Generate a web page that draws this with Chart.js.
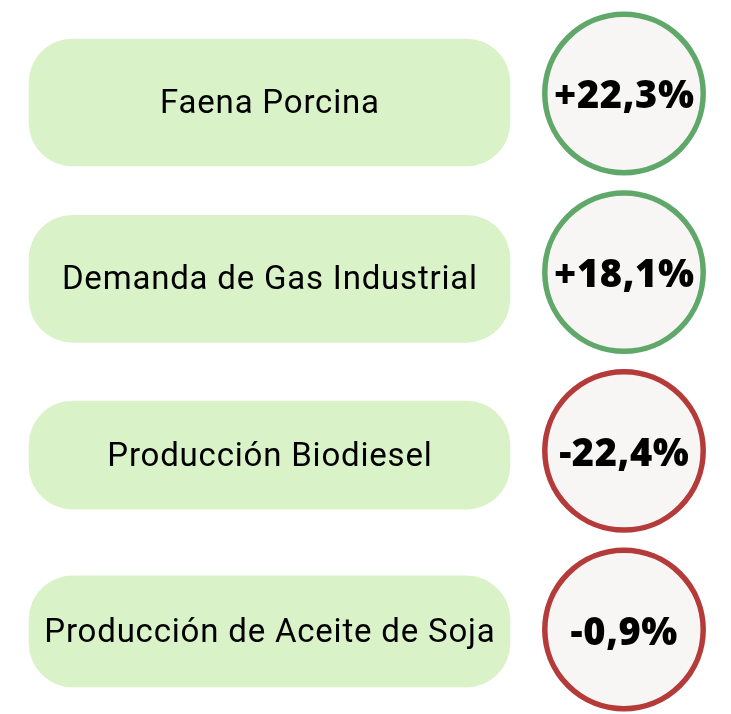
<!DOCTYPE html>
<html>
<head>
<meta charset="utf-8">
<script src="https://cdn.jsdelivr.net/npm/chart.js@4.4.1/dist/chart.umd.min.js"></script>
<style>
  html, body { margin: 0; padding: 0; background: #ffffff; }
  #wrap { width: 731px; height: 714px; }
</style>
</head>
<body>
<div id="wrap"><canvas id="c" width="731" height="714"></canvas></div>
<script>
// ---- data ----
const categories = [
  'Faena Porcina',
  'Demanda de Gas Industrial',
  'Producción Biodiesel',
  'Producción de Aceite de Soja'
];
const variation = [22.3, 18.1, -22.4, -0.9];   // % change

// ---- layout / style (not data) ----
const W = 731, H = 714;
const BOX_SPAN = [29, 510];            // x-extent of the label panels (x-axis units = px)
const BOX_HEIGHTS = [127, 127, 108, 111];
const BOX_ROW0 = 102.5, BOX_STEP = 176.3;   // vertical mapping of panel rows
const CIRCLE_X = 624;
const CIRC_ROW0 = 93.45, CIRC_STEP = 178.7;  // vertical mapping of circle rows
const BOX_COLOR = '#daf2c8';
const CIRCLE_FILL = '#f7f6f4';
const POS_COLOR = '#5fa86a';
const NEG_COLOR = '#b53a3a';

function fmtPct(v) {
  const s = Math.abs(v).toFixed(1).replace('.', ',');
  return (v >= 0 ? '+' : '-') + s + '%';
}

const textPlugin = {
  id: 'infoText',
  afterDatasetsDraw(chart) {
    const ctx = chart.ctx;
    ctx.save();
    ctx.fillStyle = '#000000';
    ctx.textAlign = 'center';
    ctx.textBaseline = 'alphabetic';
    chart.data.datasets.forEach((ds, di) => {
      const meta = chart.getDatasetMeta(di);
      if (ds.role === 'box') {
        const el = meta.data[0];
        const p = el.getCenterPoint();
        ctx.font = '400 33px Roboto';
        ctx.letterSpacing = '0.8px';
        ctx.fillText(categories[ds.row], p.x + 0.4, p.y + 10.5);
      } else if (ds.role === 'circle') {
        meta.data.forEach((el, i) => {
          ctx.font = '800 38px "Open Sans"';
          ctx.letterSpacing = '0.6px';
          ctx.fillText(fmtPct(variation[i]), el.x + 0.3, el.y + 15);
        });
      }
    });
    ctx.restore();
  }
};

function build() {
  const boxDatasets = categories.map((c, i) => ({
    type: 'bar',
    role: 'box',
    row: i,
    indexAxis: 'y',
    xAxisID: 'x',
    yAxisID: 'yBox',
    data: [{ x: BOX_SPAN, y: i }],
    grouped: false,
    barThickness: BOX_HEIGHTS[i],
    backgroundColor: BOX_COLOR,
    borderWidth: 0,
    borderRadius: 44,
    borderSkipped: false,
    clip: false
  }));

  const circleDataset = {
    type: 'scatter',
    role: 'circle',
    xAxisID: 'x',
    yAxisID: 'yCirc',
    data: categories.map((c, i) => ({ x: CIRCLE_X, y: i })),
    pointRadius: 79.2,
    pointHoverRadius: 79.2,
    pointBorderWidth: 5.5,
    borderWidth: 5.5,
    pointBackgroundColor: CIRCLE_FILL,
    backgroundColor: CIRCLE_FILL,
    pointBorderColor: variation.map(v => v >= 0 ? POS_COLOR : NEG_COLOR),
    borderColor: variation.map(v => v >= 0 ? POS_COLOR : NEG_COLOR),
    clip: false
  };

  new Chart(document.getElementById('c'), {
    type: 'scatter',
    data: { datasets: [...boxDatasets, circleDataset] },
    plugins: [textPlugin],
    options: {
      responsive: false,
      devicePixelRatio: 1,
      animation: false,
      events: [],
      layout: { padding: 0, autoPadding: false },
      plugins: { legend: { display: false }, tooltip: { enabled: false } },
      scales: {
        x: { type: 'linear', display: false, offset: false, min: 0, max: W },
        yBox: {
          type: 'linear', display: false, reverse: true, offset: false,
          grid: { offset: false },
          min: -BOX_ROW0 / BOX_STEP, max: (H - BOX_ROW0) / BOX_STEP,
          ticks: { stepSize: 1 }
        },
        yCirc: {
          type: 'linear', display: false, reverse: true, offset: false,
          min: -CIRC_ROW0 / CIRC_STEP, max: (H - CIRC_ROW0) / CIRC_STEP,
          ticks: { stepSize: 1 }
        }
      }
    }
  });
}

Promise.all([
  document.fonts.load('400 33px Roboto'),
  document.fonts.load('800 38px "Open Sans"')
]).then(build, build);
</script>
</body>
</html>
